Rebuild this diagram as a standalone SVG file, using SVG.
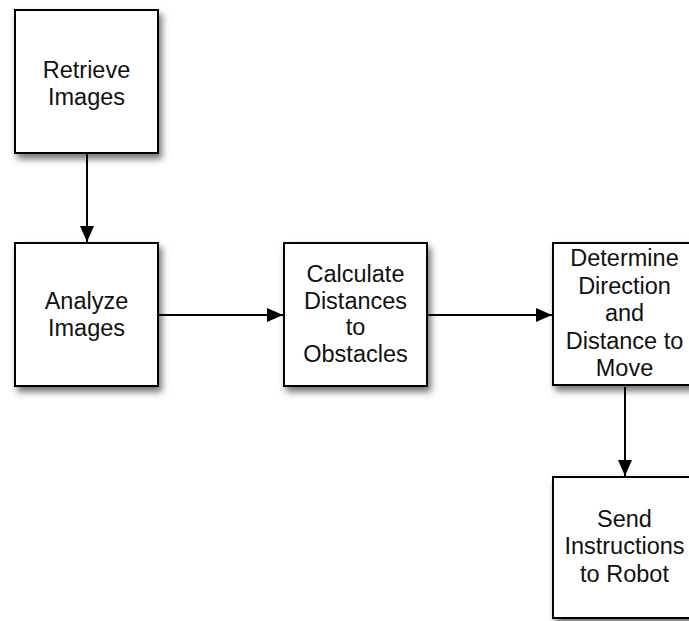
<svg xmlns="http://www.w3.org/2000/svg" width="689" height="621" viewBox="0 0 689 621">
  <defs>
    <filter id="shadow" x="-20%" y="-20%" width="150%" height="150%">
      <feDropShadow dx="3" dy="5" stdDeviation="3.5" flood-color="#000" flood-opacity="0.55"/>
    </filter>
    <marker id="arrow" markerUnits="userSpaceOnUse" markerWidth="17" markerHeight="14" refX="16" refY="7" orient="auto">
      <path d="M0,0 L16,7 L0,14 Z" fill="#000"/>
    </marker>
    <style>
      .box { fill: #fff; stroke: #000; stroke-width: 2; filter: url(#shadow); }
      .lbl { font-family: "Liberation Sans", Arial, Helvetica, sans-serif; font-size: 23.5px; fill: #111; text-anchor: middle; }
      .edge { stroke: #000; stroke-width: 2; fill: none; marker-end: url(#arrow); }
    </style>
  </defs>
  <rect width="689" height="621" fill="#fff"/>

  <g id="connectors">
    <line class="edge" x1="87" y1="154" x2="87" y2="242"/>
    <line class="edge" x1="159" y1="315" x2="283" y2="315"/>
    <line class="edge" x1="428" y1="315" x2="552" y2="315"/>
    <line class="edge" x1="625" y1="387" x2="625" y2="476"/>
  </g>

  <g id="retrieve">
    <rect class="box" x="15" y="10" width="143" height="143"/>
    <text class="lbl" x="86.5" y="78">Retrieve</text>
    <text class="lbl" x="86.5" y="104.5">Images</text>
  </g>

  <g id="analyze">
    <rect class="box" x="15" y="243" width="143" height="143"/>
    <text class="lbl" x="86.5" y="309">Analyze</text>
    <text class="lbl" x="86.5" y="335.5">Images</text>
  </g>

  <g id="calculate">
    <rect class="box" x="284" y="243" width="143" height="143"/>
    <text class="lbl" x="355.5" y="282">Calculate</text>
    <text class="lbl" x="355.5" y="308.5">Distances</text>
    <text class="lbl" x="355.5" y="335">to</text>
    <text class="lbl" x="355.5" y="361.5">Obstacles</text>
  </g>

  <g id="determine">
    <rect class="box" x="553" y="243" width="143" height="142"/>
    <text class="lbl" x="624.5" y="266">Determine</text>
    <text class="lbl" x="624.5" y="293.5">Direction</text>
    <text class="lbl" x="624.5" y="321">and</text>
    <text class="lbl" x="624.5" y="348.5">Distance to</text>
    <text class="lbl" x="624.5" y="376">Move</text>
  </g>

  <g id="send">
    <rect class="box" x="553" y="477" width="143" height="141"/>
    <text class="lbl" x="624.5" y="526.5">Send</text>
    <text class="lbl" x="624.5" y="554">Instructions</text>
    <text class="lbl" x="624.5" y="581.5">to Robot</text>
  </g>
</svg>
